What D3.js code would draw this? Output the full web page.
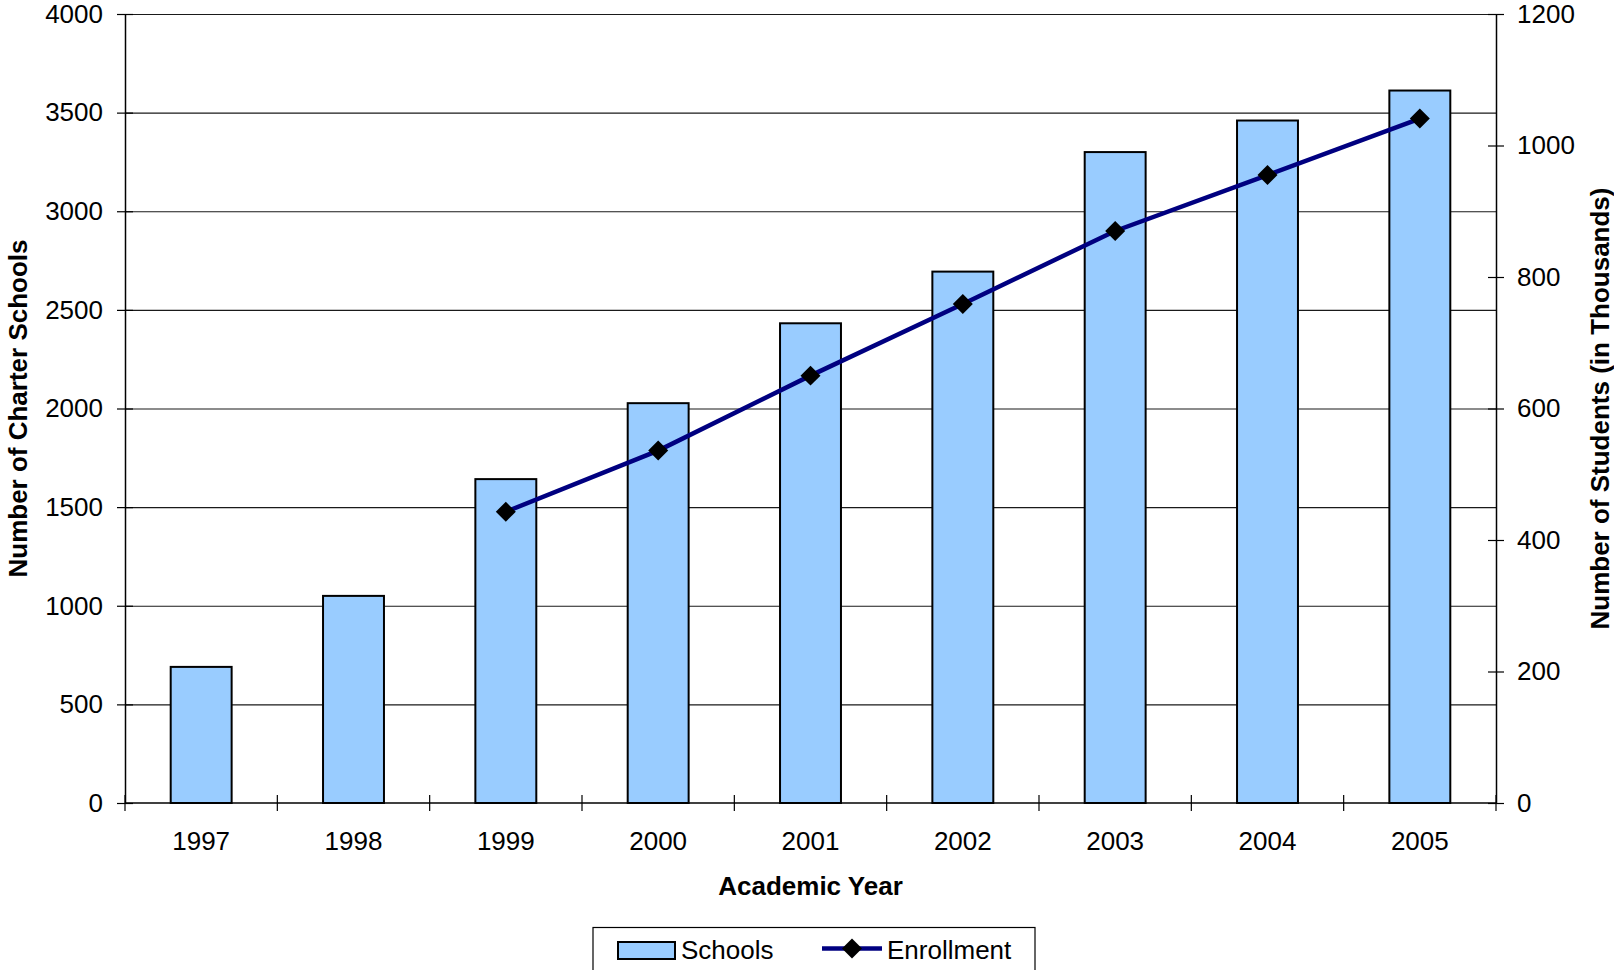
<!DOCTYPE html>
<html>
<head>
<meta charset="utf-8">
<script src="https://cdn.jsdelivr.net/npm/d3@7"></script>
<style>
  html, body { margin: 0; padding: 0; background: #fff; }
  svg { display: block; }
  text { font-family: "Liberation Sans", Arial, sans-serif; fill: #000; }
</style>
</head>
<body>
<svg id="chart" width="1614" height="970"></svg>
<script>
const years = ["1997", "1998", "1999", "2000", "2001", "2002", "2003", "2004", "2005"];
const schools = [690, 1050, 1642, 2027, 2432, 2694, 3300, 3460, 3612];
const enrollment = [null, null, 443, 536, 650, 759, 870, 955, 1041];
const leftTicks = [0, 500, 1000, 1500, 2000, 2500, 3000, 3500, 4000];
const rightTicks = [0, 200, 400, 600, 800, 1000, 1200];

const svg = d3.select("#chart");
const L = 125, R = 1496, T = 14, B = 803;
const FS = 26;
const fmt = d3.format("d");

const x = d3.scaleBand().domain(years).range([L, R]).paddingInner(0).paddingOuter(0);
const yL = d3.scaleLinear().domain([0, 4000]).range([B, T]);
const yR = d3.scaleLinear().domain([0, 1200]).range([B, T]);

// gridlines
svg.append("g").selectAll("line").data(leftTicks.filter(v => v > 0)).join("line")
  .attr("x1", L).attr("x2", R)
  .attr("y1", d => yL(d) + 0.5).attr("y2", d => yL(d) + 0.5)
  .attr("stroke", "#1a1a1a").attr("stroke-width", 1.2);

// bars
const bw = x.bandwidth() * 0.4;
svg.append("g").selectAll("rect").data(years.map((y, i) => ({y, v: schools[i]}))).join("rect")
  .attr("x", d => x(d.y) + (x.bandwidth() - bw) / 2)
  .attr("y", d => yL(d.v))
  .attr("width", bw)
  .attr("height", d => yL(0) - yL(d.v))
  .attr("fill", "#99ccff")
  .attr("stroke", "#000").attr("stroke-width", 2);

// left axis
const axL = d3.axisLeft(yL).tickValues(leftTicks).tickFormat(fmt).tickSize(8).tickSizeOuter(0).tickPadding(14);
const gL = svg.append("g").attr("transform", `translate(${L},0)`).call(axL);
gL.select(".domain").attr("stroke", "#000").attr("stroke-width", 1.5);
gL.selectAll(".tick line").attr("x2", -8).attr("x1", 8).attr("stroke", "#000").attr("stroke-width", 1.2);
gL.selectAll(".tick text").attr("font-size", FS).attr("font-family", "Liberation Sans, Arial, sans-serif").attr("x", -22);

// right axis
const axR = d3.axisRight(yR).tickValues(rightTicks).tickFormat(fmt).tickSize(8).tickSizeOuter(0).tickPadding(14);
const gR = svg.append("g").attr("transform", `translate(${R},0)`).call(axR);
gR.select(".domain").attr("stroke", "#000").attr("stroke-width", 1.5);
gR.selectAll(".tick line").attr("x1", -8).attr("x2", 8).attr("stroke", "#000").attr("stroke-width", 1.2);
gR.selectAll(".tick text").attr("font-size", FS).attr("font-family", "Liberation Sans, Arial, sans-serif").attr("x", 21);

// bottom axis (labels)
const axB = d3.axisBottom(x).tickSize(0).tickPadding(0);
const gB = svg.append("g").attr("transform", `translate(0,${B})`).call(axB);
gB.select(".domain").remove();
gB.selectAll(".tick text").attr("font-size", FS).attr("font-family", "Liberation Sans, Arial, sans-serif").attr("dy", null).attr("y", 47);
// baseline
svg.append("line").attr("x1", L).attr("x2", R).attr("y1", B).attr("y2", B)
  .attr("stroke", "#000").attr("stroke-width", 1.5);
// category boundary ticks
const bounds = years.map(d => x(d)).concat([x.range()[1]]);
svg.append("g").selectAll("line").data(bounds).join("line")
  .attr("x1", d => d).attr("x2", d => d)
  .attr("y1", B - 8).attr("y2", B + 8)
  .attr("stroke", "#000").attr("stroke-width", 1.2);

// enrollment line
const pts = years.map((y, i) => ({y, v: enrollment[i]})).filter(d => d.v != null);
const line = d3.line().x(d => x(d.y) + x.bandwidth() / 2).y(d => yR(d.v));
svg.append("path").datum(pts).attr("d", line)
  .attr("fill", "none").attr("stroke", "#000080").attr("stroke-width", 4.5);
const sym = d3.symbol().type(d3.symbolSquare).size(200);
svg.append("g").selectAll("path").data(pts).join("path")
  .attr("d", sym)
  .attr("transform", d => `translate(${x(d.y) + x.bandwidth() / 2},${yR(d.v)}) rotate(45)`)
  .attr("fill", "#000");

// axis titles
svg.append("text").attr("transform", `translate(${(L + R) / 2},895)`)
  .attr("text-anchor", "middle").attr("font-size", FS).attr("font-weight", "bold").text("Academic Year");
svg.append("text").attr("transform", `translate(27,${(T + B) / 2}) rotate(-90)`)
  .attr("text-anchor", "middle").attr("font-size", FS).attr("font-weight", "bold").text("Number of Charter Schools");
svg.append("text").attr("transform", `translate(1609,${(T + B) / 2}) rotate(-90)`)
  .attr("text-anchor", "middle").attr("font-size", FS).attr("font-weight", "bold").text("Number of Students (in Thousands)");

// legend
const lg = svg.append("g");
lg.append("rect").attr("x", 593).attr("y", 927.5).attr("width", 442).attr("height", 60)
  .attr("fill", "#fff").attr("stroke", "#000").attr("stroke-width", 1.2);
lg.append("rect").attr("x", 618).attr("y", 942).attr("width", 57).attr("height", 17)
  .attr("fill", "#99ccff").attr("stroke", "#000").attr("stroke-width", 2);
lg.append("text").attr("x", 681).attr("y", 959).attr("font-size", FS).text("Schools");
lg.append("line").attr("x1", 822).attr("x2", 882).attr("y1", 948.5).attr("y2", 948.5)
  .attr("stroke", "#000080").attr("stroke-width", 4.5);
lg.append("path").attr("d", sym).attr("transform", "translate(852,948.5) rotate(45)").attr("fill", "#000");
lg.append("text").attr("x", 887).attr("y", 959).attr("font-size", FS).text("Enrollment");
</script>
</body>
</html>
